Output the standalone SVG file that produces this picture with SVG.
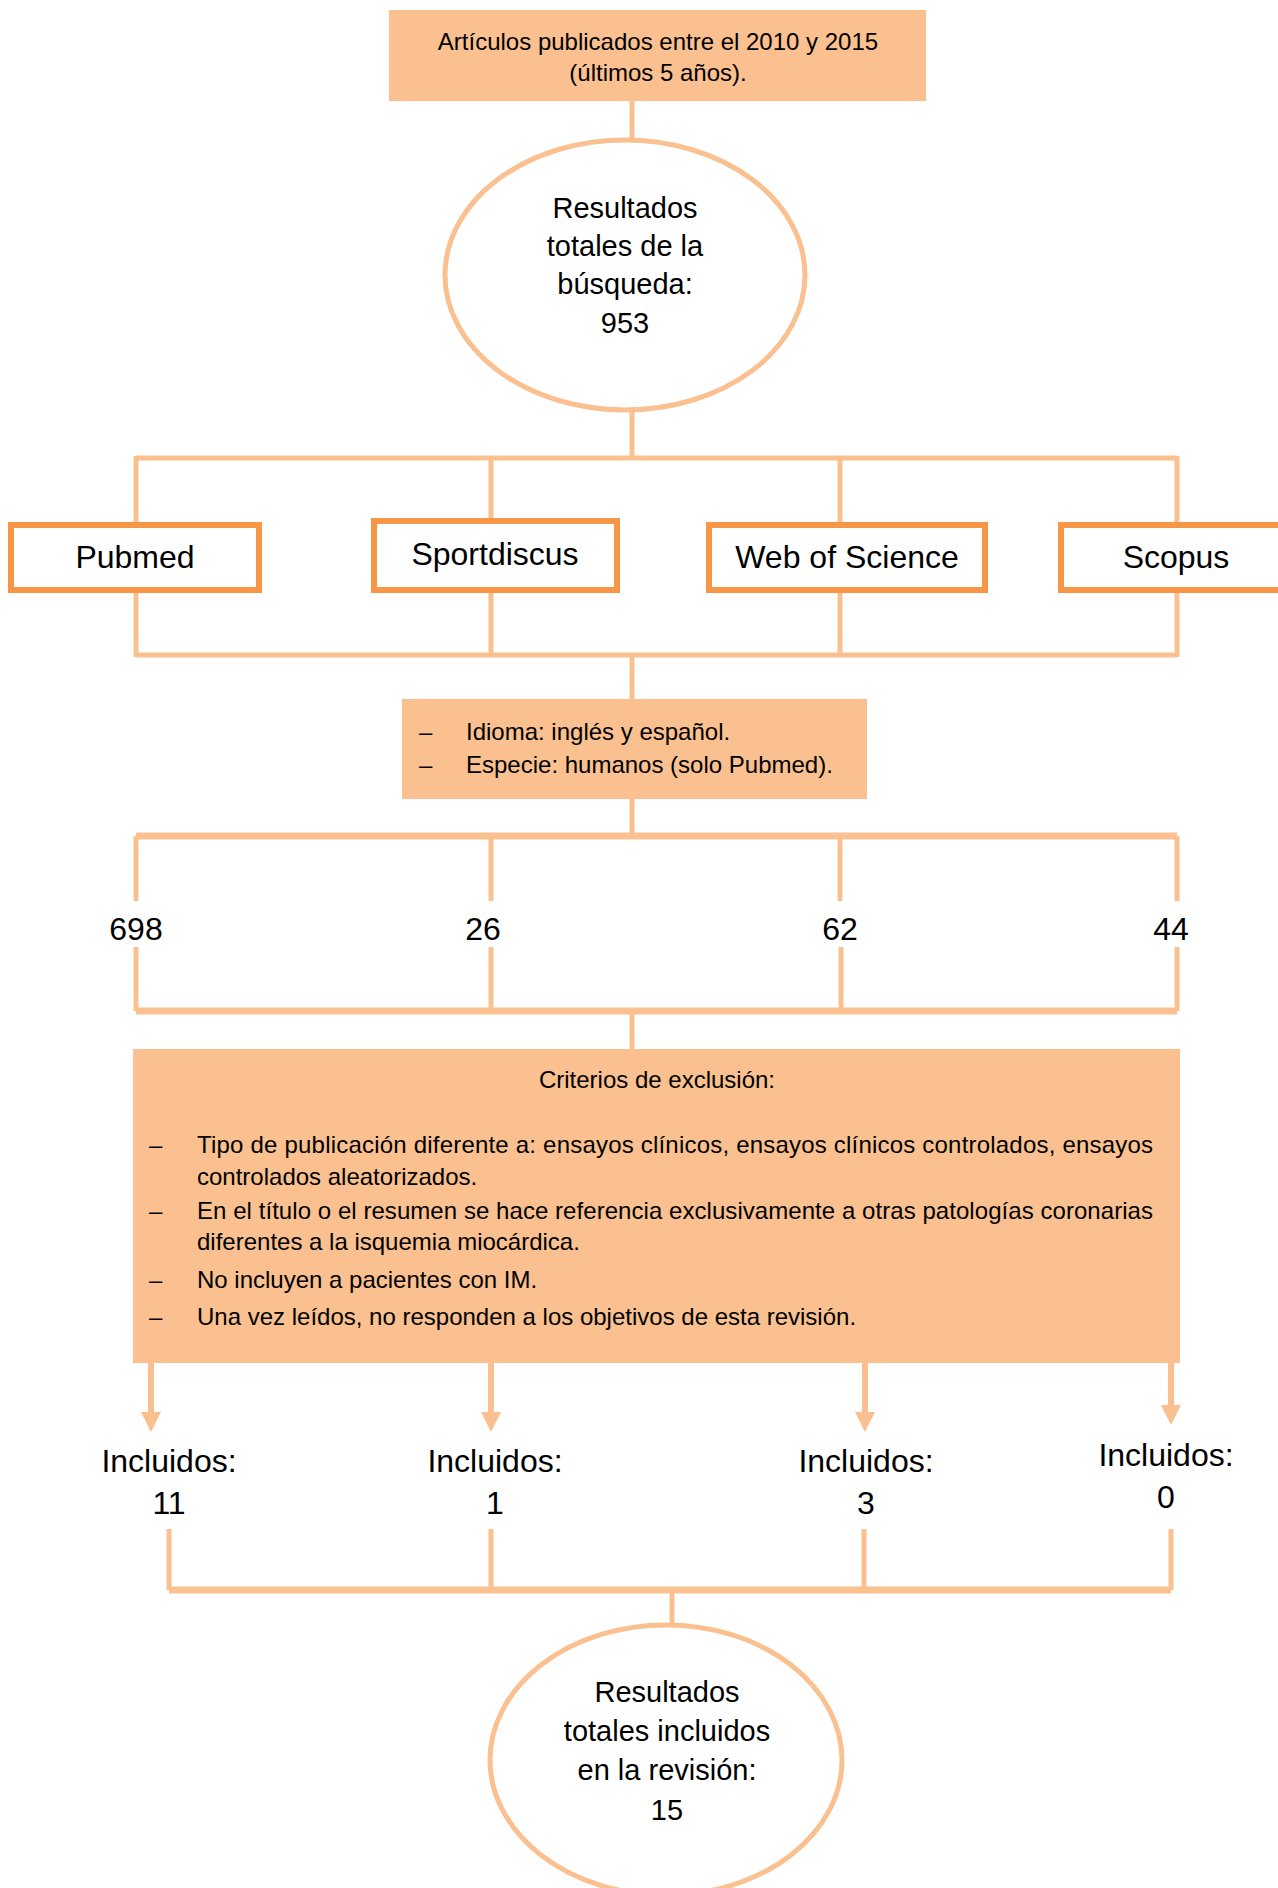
<svg xmlns="http://www.w3.org/2000/svg" width="1278" height="1888" viewBox="0 0 1278 1888">
<style>
.fill{fill:#FAC090}
.db{fill:#FFFFFF;stroke:#F79646;stroke-width:6}
.ell{fill:#FFFFFF;stroke:#FAC090;stroke-width:5}
.ln{fill:none;stroke:#FAC090;stroke-width:5}
.thk{fill:none;stroke:#FAC090;stroke-width:7}
.ar{fill:none;stroke:#FAC090;stroke-width:6}
text{font-family:"Liberation Sans",Arial,sans-serif;fill:#000}
.s24{font-size:24px}
.s29{font-size:29px}
.s32{font-size:32px}
.c{text-anchor:middle}
</style>
<defs>
<marker id="ah" viewBox="0 0 20 20" refX="0" refY="10" markerWidth="20" markerHeight="20" markerUnits="userSpaceOnUse" orient="auto">
<path d="M0,0 L20,10 L0,20 Z" fill="#FAC090"/>
</marker>
</defs>
<g id="connectors">
<path class="ln" d="M632 101 V140"/>
<path class="ln" d="M632 410 V458"/>
<path class="ln" d="M136 458 H1177"/>
<path class="ln" d="M136 456 V522 M491 458 V518 M840 458 V522 M1177 456 V522"/>
<path class="ln" d="M136 593 V657 M491 593 V655 M840 593 V655 M1177 593 V657"/>
<path class="ln" d="M136 655 H1177"/>
<path class="ln" d="M632 655 V699"/>
<path class="ln" d="M632 799 V836"/>
<path class="thk" d="M136 836 H1177"/>
<path class="ln" d="M136 836 V901 M491 836 V901 M840 836 V901 M1177 836 V901"/>
<path class="ln" d="M136 947 V1011 M491 947 V1011 M841 947 V1011 M1177 947 V1011"/>
<path class="thk" d="M136 1011 H1177"/>
<path class="ln" d="M632 1011 V1049"/>
<path class="ar" d="M151 1363 V1412" marker-end="url(#ah)"/>
<path class="ar" d="M491 1363 V1412" marker-end="url(#ah)"/>
<path class="ar" d="M865 1363 V1412" marker-end="url(#ah)"/>
<path class="ar" d="M1171 1363 V1405" marker-end="url(#ah)"/>
<path class="ln" d="M169 1529 V1590 M491 1529 V1590 M864 1529 V1590 M1171 1529 V1590"/>
<path class="thk" d="M169 1590 H1171"/>
<path class="ln" d="M672 1590 V1626"/>
</g>
<g id="n-periodo">
<rect class="fill" x="389" y="10" width="537" height="91"/>
<text class="s24 c" x="658" y="50">Artículos publicados entre el 2010 y 2015</text>
<text class="s24 c" x="658" y="81">(últimos 5 años).</text>
</g>
<g id="n-total">
<ellipse class="ell" cx="625" cy="275" rx="180" ry="135"/>
<text class="s29 c" x="625" y="218">Resultados</text>
<text class="s29 c" x="625" y="256">totales de la</text>
<text class="s29 c" x="625" y="294">búsqueda:</text>
<text class="s29 c" x="625" y="333">953</text>
</g>
<g id="n-pubmed">
<rect class="db" x="11" y="525" width="248" height="65"/>
<text class="s32 c" x="135" y="568">Pubmed</text>
</g>
<g id="n-sportdiscus">
<rect class="db" x="374" y="521" width="243" height="69"/>
<text class="s32 c" x="495" y="565">Sportdiscus</text>
</g>
<g id="n-wos">
<rect class="db" x="709" y="525" width="276" height="65"/>
<text class="s32 c" x="847" y="568">Web of Science</text>
</g>
<g id="n-scopus">
<rect class="db" x="1061" y="525" width="240" height="65"/>
<text class="s32 c" x="1176" y="568">Scopus</text>
</g>
<g id="n-filtros">
<rect class="fill" x="402" y="699" width="465" height="100"/>
<text class="s24" x="419" y="740">–</text>
<text class="s24" x="466" y="740">Idioma: inglés y español.</text>
<text class="s24" x="419" y="773">–</text>
<text class="s24" x="466" y="773">Especie: humanos (solo Pubmed).</text>
</g>
<g id="n-698"><text class="s32 c" x="136" y="940">698</text></g>
<g id="n-26"><text class="s32 c" x="483" y="940">26</text></g>
<g id="n-62"><text class="s32 c" x="840" y="940">62</text></g>
<g id="n-44"><text class="s32 c" x="1171" y="940">44</text></g>
<g id="n-exclusion">
<rect class="fill" x="133" y="1049" width="1047" height="314"/>
<text class="s24 c" x="657" y="1088">Criterios de exclusión:</text>
<text class="s24" x="149" y="1153">–</text>
<text class="s24" x="197" y="1153" textLength="956" lengthAdjust="spacing">Tipo de publicación diferente a: ensayos clínicos, ensayos clínicos controlados, ensayos</text>
<text class="s24" x="197" y="1185">controlados aleatorizados.</text>
<text class="s24" x="149" y="1219">–</text>
<text class="s24" x="197" y="1219" textLength="956" lengthAdjust="spacing">En el título o el resumen se hace referencia exclusivamente a otras patologías coronarias</text>
<text class="s24" x="197" y="1250">diferentes a la isquemia miocárdica.</text>
<text class="s24" x="149" y="1288">–</text>
<text class="s24" x="197" y="1288">No incluyen a pacientes con IM.</text>
<text class="s24" x="149" y="1325">–</text>
<text class="s24" x="197" y="1325">Una vez leídos, no responden a los objetivos de esta revisión.</text>
</g>
<g id="n-inc-pubmed">
<text class="s32 c" x="169" y="1472">Incluidos:</text>
<text class="s32 c" x="169" y="1514">11</text>
</g>
<g id="n-inc-sport">
<text class="s32 c" x="495" y="1472">Incluidos:</text>
<text class="s32 c" x="495" y="1514">1</text>
</g>
<g id="n-inc-wos">
<text class="s32 c" x="866" y="1472">Incluidos:</text>
<text class="s32 c" x="866" y="1514">3</text>
</g>
<g id="n-inc-scopus">
<text class="s32 c" x="1166" y="1466">Incluidos:</text>
<text class="s32 c" x="1166" y="1508">0</text>
</g>
<g id="n-final">
<ellipse class="ell" cx="666" cy="1760" rx="176" ry="135"/>
<text class="s29 c" x="667" y="1702">Resultados</text>
<text class="s29 c" x="667" y="1741">totales incluidos</text>
<text class="s29 c" x="667" y="1780">en la revisión:</text>
<text class="s29 c" x="667" y="1820">15</text>
</g>
</svg>
